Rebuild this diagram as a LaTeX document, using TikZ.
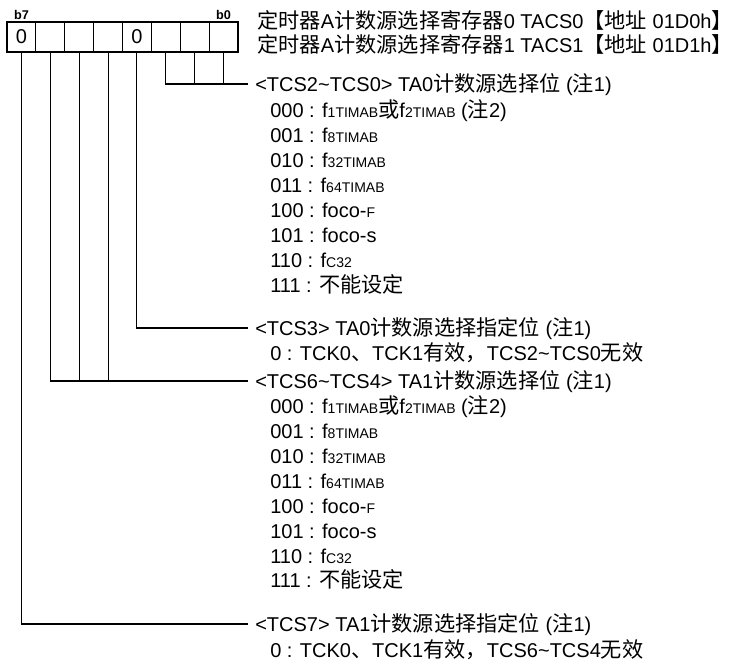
\documentclass[tikz,border=0pt]{standalone}
\usepackage{fontspec}
\setmainfont{Liberation Sans}
\newfontfamily\cjk[Scale=1.06]{Noto Sans CJK SC}
\usepackage{tikz}

\newcommand{\zh}[1]{{\cjk #1}}
\newcommand{\lo}[1]{{\fontsize{10.5}{12}\selectfont #1}}

\begin{document}
\begin{tikzpicture}[x=0.75pt,y=-0.75pt,
		every node/.style={font=\fontsize{15}{17}\selectfont},
		bit/.style={draw,thick,minimum width=21.66pt,minimum height=22.5pt,inner sep=0pt},
		bitlbl/.style={font=\bfseries\fontsize{9.5}{11}\selectfont,inner sep=1pt},
		txt/.style={anchor=west,inner xsep=0pt,inner ysep=0pt,text height=10.7pt,text depth=0pt},
		tcs/.style={txt,inner xsep=5.25pt}]
		\useasboundingbox (0,0) rectangle (737,667);
		
		\node[bit,label={[bitlbl]above:b7}] (c7) at (21.44,37) {0};
		\node[bit] (c6) at (50.31,37) {};
		\node[bit] (c5) at (79.19,37) {};
		\node[bit] (c4) at (108.06,37) {};
		\node[bit] (c3) at (136.94,37) {0};
		\node[bit] (c2) at (165.81,37) {};
		\node[bit] (c1) at (194.69,37) {};
		\node[bit,label={[bitlbl]above:b0}] (c0) at (223.56,37) {};
		
		\node[txt] (h0) at (257,21) {\zh{定时器}A\zh{计数源选择寄存器}0 TACS0\zh{【地址} 01D0h\zh{】}};
		\node[txt] (h1) at (257,45) {\zh{定时器}A\zh{计数源选择寄存器}1 TACS1\zh{【地址} 01D1h\zh{】}};
		
		\node[tcs] (t0) at (248,84) {<TCS2\textasciitilde TCS0> TA0\zh{计数源选择位} (\zh{注}1)};
		\node[txt] (a0) at (270,110) {000 : f\lo{1TIMAB}\zh{或}f\lo{2TIMAB} (\zh{注}2)};
		\node[txt] (a1) at (270,135) {001 : f\lo{8TIMAB}};
		\node[txt] (a2) at (270,160) {010 : f\lo{32TIMAB}};
		\node[txt] (a3) at (270,185) {011 : f\lo{64TIMAB}};
		\node[txt] (a4) at (270,210) {100 : foco-\lo{F}};
		\node[txt] (a5) at (270,235) {101 : foco-s};
		\node[txt] (a6) at (270,260) {110 : f\lo{C32}};
		\node[txt] (a7) at (270,285) {111 : \zh{不能设定}};
		
		\node[tcs] (t3) at (248,328) {<TCS3> TA0\zh{计数源选择指定位} (\zh{注}1)};
		\node[txt] (k) at (270,353) {0 : TCK0\zh{、}TCK1\zh{有效，}TCS2\textasciitilde TCS0\zh{无效}};
		
		\node[tcs] (t4) at (248,381) {<TCS6\textasciitilde TCS4> TA1\zh{计数源选择位} (\zh{注}1)};
		\node[txt] (b0) at (270,406) {000 : f\lo{1TIMAB}\zh{或}f\lo{2TIMAB} (\zh{注}2)};
		\node[txt] (b1) at (270,431) {001 : f\lo{8TIMAB}};
		\node[txt] (b2) at (270,456) {010 : f\lo{32TIMAB}};
		\node[txt] (b3) at (270,481) {011 : f\lo{64TIMAB}};
		\node[txt] (b4) at (270,506) {100 : foco-\lo{F}};
		\node[txt] (b5) at (270,531) {101 : foco-s};
		\node[txt] (b6) at (270,556) {110 : f\lo{C32}};
		\node[txt] (b7) at (270,580) {111 : \zh{不能设定}};
		
		\node[tcs] (t7) at (248,624) {<TCS7> TA1\zh{计数源选择指定位} (\zh{注}1)};
		\node[txt] (m) at (270,650) {0 : TCK0\zh{、}TCK1\zh{有效，}TCS6\textasciitilde TCS4\zh{无效}};
		
		\draw[thick] (c2.south) |- (t0.west);
		\draw[thick] (c1.south) -- (c1.south |- t0.west);
		\draw[thick] (c0.south) -- (c0.south |- t0.west);
		\draw[thick] (c3.south) |- (t3.west);
		\draw[thick] (c6.south) |- (t4.west);
		\draw[thick] (c5.south) -- (c5.south |- t4.west);
		\draw[thick] (c4.south) -- (c4.south |- t4.west);
		\draw[thick] (c7.south) |- (t7.west);
\end{tikzpicture}
\end{document}
